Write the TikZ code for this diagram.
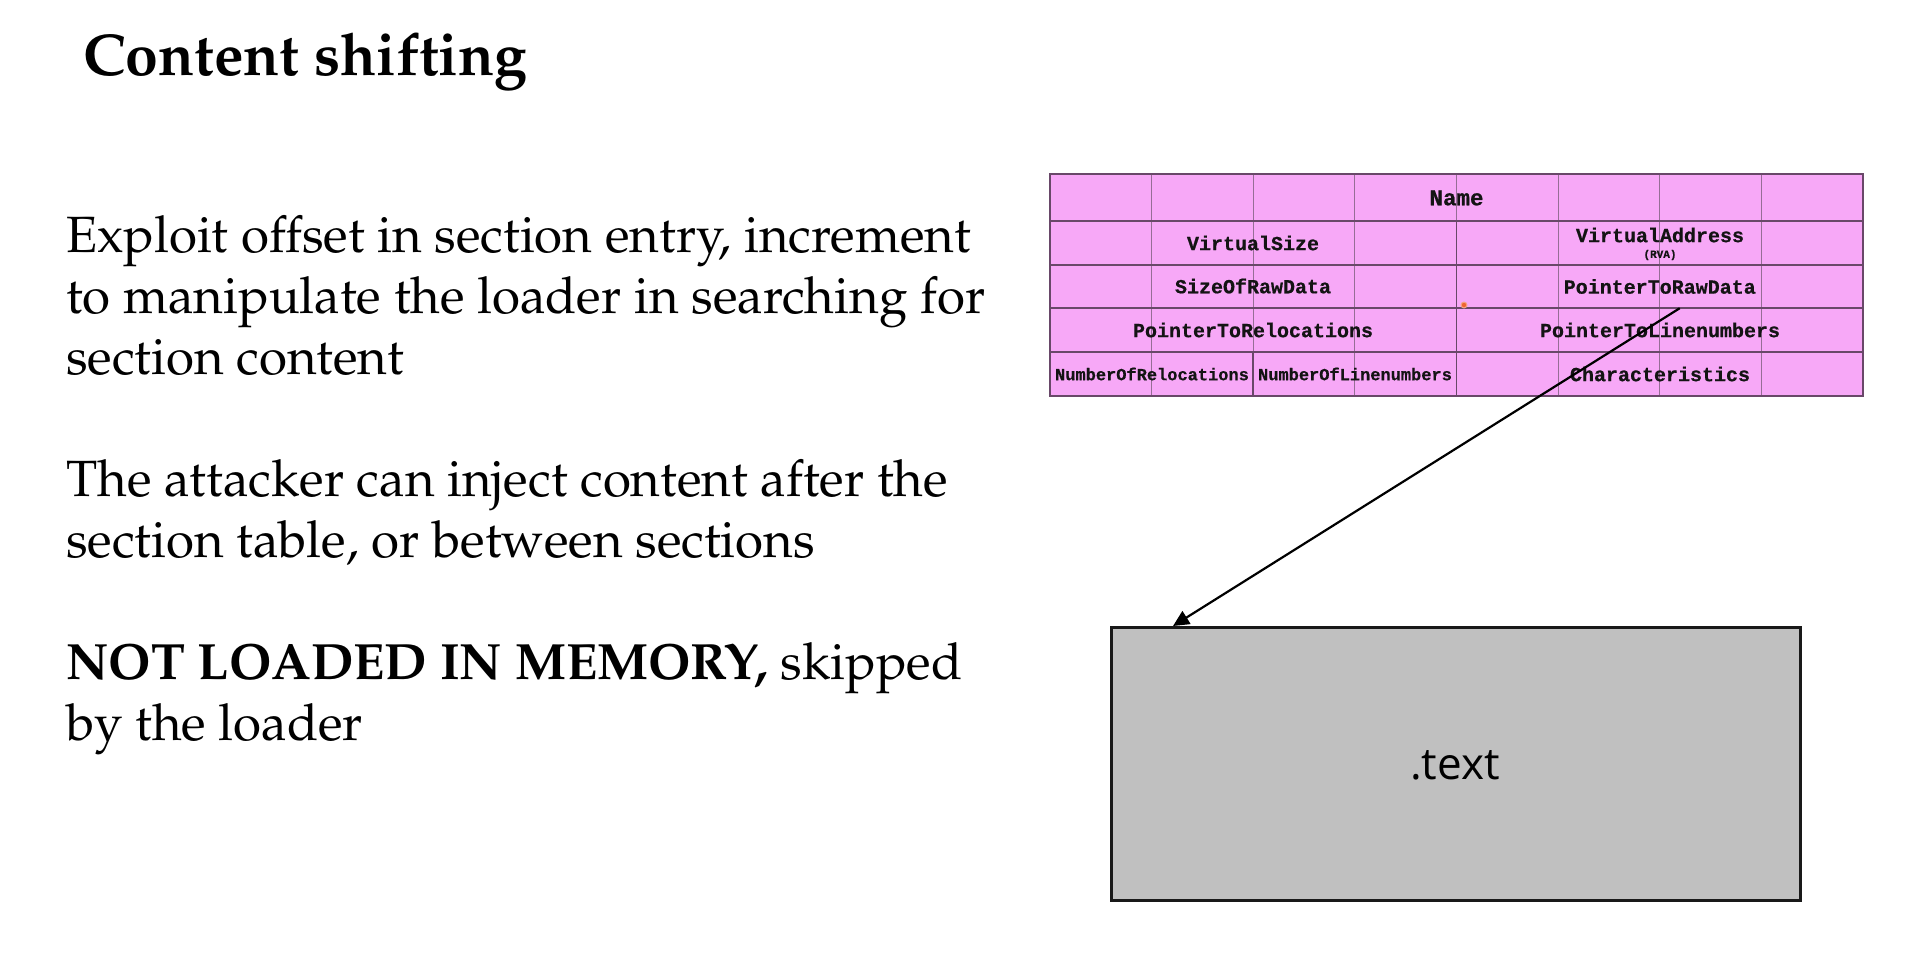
\documentclass[tikz,border=0pt]{standalone}
\usepackage{fontspec}
\usepackage[T1,TU]{fontenc}
\usetikzlibrary{arrows.meta,calc}
\newfontfamily\monofam{Liberation Mono}[FakeBold=0.6]
\newfontfamily\opensfam{Open Sans}
\newcommand\palr{\fontencoding{T1}\fontfamily{ppl}\selectfont}
\definecolor{pinkfill}{RGB}{247,168,247}
\definecolor{gridthin}{RGB}{150,110,150}
\definecolor{griddark}{RGB}{105,72,105}
\definecolor{boxgray}{RGB}{192,192,192}
\definecolor{dotorange}{RGB}{240,100,50}
\tikzset{
  bodytext/.style={anchor=base west, inner sep=0pt, font=\palr\fontsize{51}{61}\selectfont},
  celltext/.style={inner sep=0pt, font=\monofam\bfseries\fontsize{20}{22}\selectfont, text=black!92},
  smallcell/.style={inner sep=0pt, font=\monofam\bfseries\fontsize{17}{19}\selectfont, text=black!92},
  hline/.style={draw=griddark, line width=2pt},
  vthin/.style={draw=gridthin, line width=1.1pt},
  vdark/.style={draw=griddark, line width=1.8pt},
}
\begin{document}
\begin{tikzpicture}[x=1pt,y=-1pt]
\useasboundingbox (0,0) rectangle (1920,969);
\fill[white] (0,0) rectangle (1920,969);

% title
\node[anchor=base west, inner sep=0pt, font=\palr\bfseries\fontsize{59}{68}\selectfont] (title) at (83,75) {Content shifting};

% body text
\node[bodytext] (l1) at (66,252) {Exploit offset in section entry, increment};
\node[bodytext] (l2) at (66,313) {to manipulate the loader in searching for};
\node[bodytext] (l3) at (66,374) {section content};
\node[bodytext] (l4) at (66,496) {The attacker can inject content after the};
\node[bodytext] (l5) at (66,557) {section table, or between sections};
\node[bodytext] (l6) at (66,679) {\textbf{NOT LOADED IN MEMORY,} skipped};
\node[bodytext] (l7) at (66,740) {by the loader};

% table
\fill[pinkfill] (1050,174) rectangle (1863,396);
\foreach \i in {1,...,7} {
  \draw[vthin] ({1050+\i*101.625},174) -- ({1050+\i*101.625},396);
}
\draw[vdark] (1456.5,221) -- (1456.5,396);
\draw[vdark] (1253.25,352) -- (1253.25,396);
\foreach \yy in {221,265,308,352} {
  \draw[hline] (1050,\yy) -- (1863,\yy);
}
\draw[hline] (1050,174) rectangle (1863,396);

\node[celltext, font=\monofam\bfseries\fontsize{22.5}{24}\selectfont] (name) at (1456.5,198) {Name};
\node[celltext] (vsize) at (1253,243) {VirtualSize};
\node[celltext] (vaddr) at (1660,235) {VirtualAddress};
\node[inner sep=0pt, font=\monofam\bfseries\fontsize{11}{12}\selectfont, text=black!92] (rva) at (1660,255) {(RVA)};
\node[celltext] (sraw) at (1253,286) {SizeOfRawData};
\node[celltext, minimum width=406pt, minimum height=43pt] (ptrraw) at (1659.75,286.5) {PointerToRawData};
\node[celltext] (ptrrel) at (1253,330) {PointerToRelocations};
\node[celltext] (ptrlin) at (1660,330) {PointerToLinenumbers};
\node[smallcell] (nrel) at (1152,374) {NumberOfRelocations};
\node[smallcell] (nlin) at (1355,374) {NumberOfLinenumbers};
\node[celltext] (chars) at (1660,374) {Characteristics};

% orange dot
\fill[dotorange!60] (1464,305) circle (3.5pt);
\fill[dotorange] (1464,305) circle (2.2pt);

% text box
\node[draw=black!90, fill=boxgray, line width=2.5pt, minimum width=689pt, minimum height=273pt, anchor=north west, inner sep=0pt] (textbox) at (1110,626) {};
\node[anchor=base, inner sep=0pt, font=\opensfam\fontsize{44}{50}\selectfont] (textlbl) at (1455,779) {.text};

% arrow
\coordinate (astart) at ($(ptrraw.south)+(20,0)$);
\coordinate (aend) at ($(textbox.north west)+(63,0)$);
\draw[line width=2.2pt, -{Triangle[length=16pt,width=15pt]}] (astart) -- (aend);
\end{tikzpicture}
\end{document}
